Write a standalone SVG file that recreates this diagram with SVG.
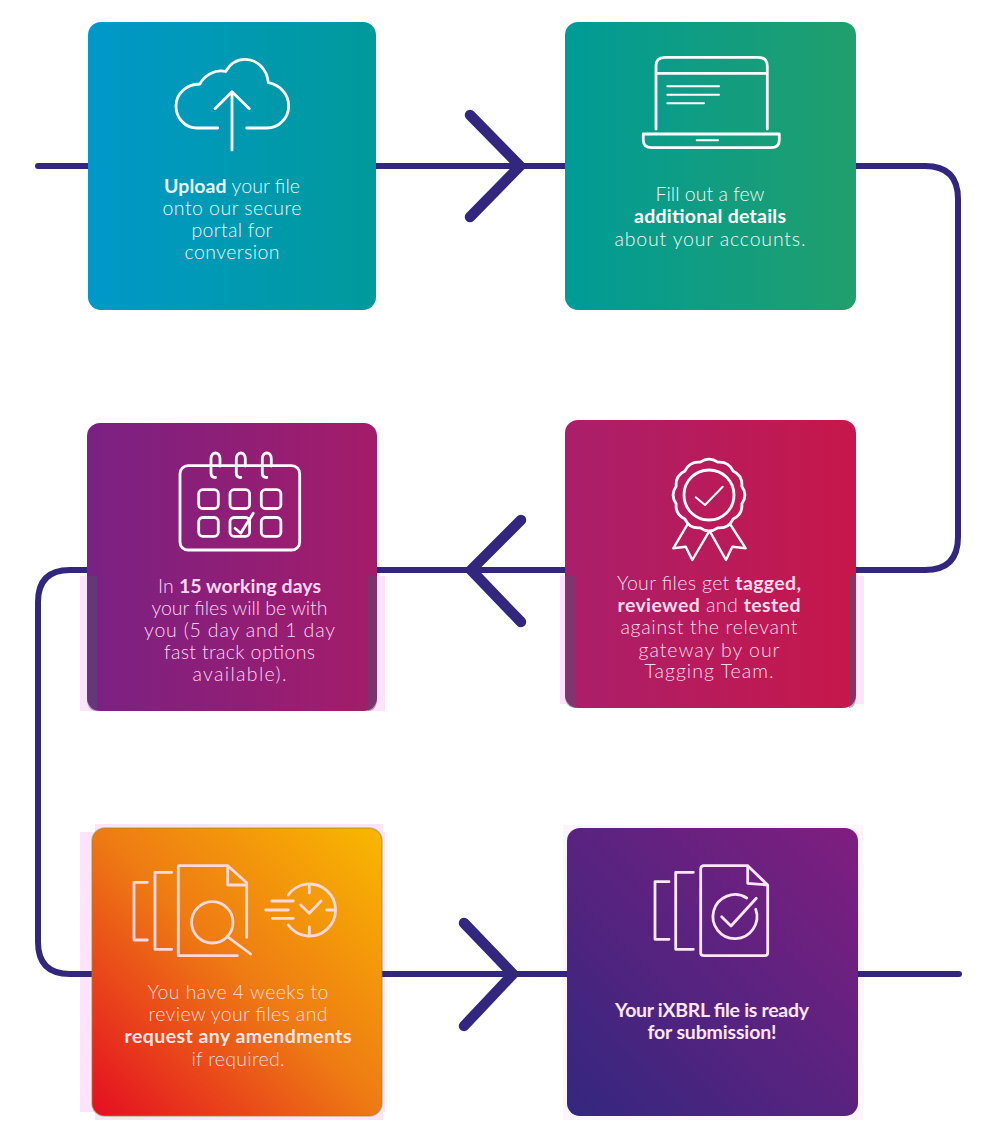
<svg xmlns="http://www.w3.org/2000/svg" width="1000" height="1146" viewBox="0 0 1000 1146">
<style>
.wire{fill:none;stroke:#33267f;stroke-width:6;stroke-linecap:round;stroke-linejoin:round}
.chev{fill:none;stroke:#33267f;stroke-width:10.5;stroke-linecap:round;stroke-linejoin:miter}
.ic{fill:none;stroke-width:2.8;stroke-linecap:round;stroke-linejoin:round}
.t{font-family:"Lato","Open Sans","Liberation Sans",sans-serif;font-size:19.5px;font-weight:300;text-anchor:middle}
.t tspan,.b{font-weight:700}
.halo{fill:#fde3fb}
.edge{fill:#4d5070;opacity:.45}
</style>
<defs>
<linearGradient id="g1" x1="0" x2="1" y1="0" y2="0"><stop offset="0" stop-color="#0098c9"/><stop offset="1" stop-color="#009a9b"/></linearGradient>
<linearGradient id="g2" x1="0" x2="1" y1="0" y2="0"><stop offset="0" stop-color="#009b97"/><stop offset="1" stop-color="#219f6c"/></linearGradient>
<linearGradient id="g3" x1="0" x2="1" y1="0" y2="0"><stop offset="0" stop-color="#7a2184"/><stop offset="1" stop-color="#a41c69"/></linearGradient>
<linearGradient id="g4" x1="0" x2="1" y1="0" y2="0"><stop offset="0" stop-color="#aa1f6b"/><stop offset="1" stop-color="#c7174a"/></linearGradient>
<linearGradient id="g5" x1="0" x2="1" y1="1" y2="0"><stop offset="0" stop-color="#e40d22"/><stop offset=".5" stop-color="#ee7a14"/><stop offset="1" stop-color="#f9b800"/></linearGradient>
<linearGradient id="g6" x1="0" x2="1" y1="1" y2="0"><stop offset="0" stop-color="#33277f"/><stop offset="1" stop-color="#801e80"/></linearGradient>
</defs>
<rect width="1000" height="1146" fill="#fff"/>
<rect class="halo" x="560" y="576" width="304" height="128"/>
<rect class="halo" x="80" y="576" width="305" height="135"/>
<rect class="halo" x="80" y="832" width="305" height="280"/>
<rect class="halo" x="95" y="824" width="288" height="296"/>
<rect x="563" y="825" width="300" height="295" fill="#fdf4fd"/>
<g id="connectors">
<path class="wire" d="M38 166H565"/>
<path class="wire" d="M856 166H925Q958 166 958 199V537Q958 570 925 570H377"/>
<path class="wire" d="M87 570H70Q38 570 38 602V942Q38 974 70 974H567"/>
<path class="wire" d="M858 974H959"/>
<path class="chev" d="M470 115L520 166L470 217"/>
<path class="chev" d="M521 520L471 570L521 622"/>
<path class="chev" d="M464 923L513 974L464 1026"/>
</g>
<g id="node-upload">
<rect x="88" y="22" width="288" height="288" rx="13" fill="url(#g1)"/>
<g class="ic" stroke="#fff">
<path d="M217.700 128H197C185 128 176 118 176 106C176 94 186 84 200 84C204 75 216 69 225.700 71.500C230 64 237 59.300 245 59.300C257 59.300 267 69 268.300 82.700C280 85 288.700 94 288.700 106C288.700 118 279 128 266.700 128H246.700"/>
<path d="M232 150V92M215 108.700L232 91.700L249.300 108.700"/>
</g>
<text class="t" fill="#e6f8fb" x="232" y="192.500" textLength="136"><tspan>Upload</tspan> your file</text>
<text class="t" fill="#e6f8fb" x="232" y="215" textLength="139">onto our secure</text>
<text class="t" fill="#e6f8fb" x="232" y="237" textLength="81">portal for</text>
<text class="t" fill="#e6f8fb" x="232" y="259" textLength="95">conversion</text>
</g>
<g id="node-details">
<rect x="565" y="22" width="291" height="288" rx="13" fill="url(#g2)"/>
<g class="ic" stroke="#fff">
<path d="M656 129V66Q656 57.300 665 57.300H758Q767.300 57.300 767.300 66V129M656 73.300H767.300"/>
<path d="M667.300 86.300H719M667.300 94.700H719M667.300 103.300H704M696.700 140.300H718" stroke-width="2"/>
<path d="M643.300 134H779.300V140Q779.300 147.700 771 147.700H652Q643.300 147.700 643.300 140Z"/>
</g>
<text class="t" fill="#eefaf5" x="710" y="201" textLength="109">Fill out a few</text>
<text class="t" fill="#fff" x="710" y="223" textLength="152"><tspan>additional details</tspan></text>
<text class="t" fill="#eefaf5" x="710" y="246" textLength="191">about your accounts.</text>
</g>
<g id="node-tagged">
<rect x="565" y="420" width="291" height="288" rx="13" fill="url(#g4)"/>
<path class="edge" d="M565 576H576V708Q565 708 565 695ZM849 576H856V695Q856 708 849 708Z"/>
<g class="ic" stroke="#fff">
<path transform="translate(709 495)" d="M32.840 8.800Q33.770 19.500 24.040 24.040Q19.500 33.770 8.800 32.840Q0 39 -8.800 32.840Q-19.500 33.770 -24.040 24.040Q-33.770 19.500 -32.840 8.800Q-39 0 -32.840 -8.800Q-33.770 -19.500 -24.040 -24.040Q-19.500 -33.770 -8.800 -32.840Q0 -39 8.800 -32.840Q19.500 -33.770 24.040 -24.040Q33.770 -19.500 32.840 -8.800Q39 0 32.840 8.800Z"/>
<circle cx="709" cy="495" r="25"/>
<path d="M695.700 497.300L705 505L722.700 486.700" stroke-width="2"/>
<path d="M687.700 524L673.300 548.300L685.700 546.700L692.300 560L709 531.700M730 524L745.700 548.300L732.300 546.700L726 560L710 531.700" stroke-width="2.400"/>
</g>
<text class="t" fill="#fdd9ec" x="709" y="590" textLength="184">Your files get <tspan>tagged,</tspan></text>
<text class="t" fill="#fdd9ec" x="709" y="612" textLength="183"><tspan>reviewed</tspan> and <tspan>tested</tspan></text>
<text class="t" fill="#fdd9ec" x="709" y="634" textLength="177">against the relevant</text>
<text class="t" fill="#fdd9ec" x="709" y="657" textLength="141">gateway by our</text>
<text class="t" fill="#fdd9ec" x="709" y="678" textLength="129">Tagging Team.</text>
</g>
<g id="node-days">
<rect x="87" y="423" width="290" height="288" rx="13" fill="url(#g3)"/>
<path class="edge" d="M87 576H97V711Q87 711 87 698ZM368 576H377V698Q377 711 368 711Z"/>
<g class="ic" stroke="#fff">
<rect x="180" y="465.700" width="119.700" height="84.300" rx="8"/>
<path d="M215.500 477.500C212 477.500 211 475.500 211 473V459C211 451 220 451 220 459V466M240.800 477.500C237.300 477.500 236.300 475.500 236.300 473V459C236.300 451 245.300 451 245.300 459V466M266.800 477.500C263.300 477.500 262.300 475.500 262.300 473V459C262.300 451 271.300 451 271.300 459V466"/>
<rect x="198.700" y="489.700" width="19.600" height="18.800" rx="4"/>
<rect x="230" y="489.700" width="19.600" height="18.800" rx="4"/>
<rect x="261.300" y="489.700" width="19.600" height="18.800" rx="4"/>
<rect x="198.700" y="517.500" width="19.600" height="18.800" rx="4"/>
<rect x="230" y="517.500" width="19.600" height="18.800" rx="4"/>
<rect x="261.300" y="517.500" width="19.600" height="18.800" rx="4"/>
<path d="M235 528.300L240.700 533.300L253.300 513.300"/>
</g>
<text class="t" fill="#fbd6f3" x="239.500" y="593" textLength="163">In <tspan>15 working days</tspan></text>
<text class="t" fill="#fbd6f3" x="239.500" y="615" textLength="176">your files will be with</text>
<text class="t" fill="#fbd6f3" x="239.500" y="637" textLength="191">you (5 day and 1 day</text>
<text class="t" fill="#fbd6f3" x="239.500" y="659" textLength="151">fast track options</text>
<text class="t" fill="#fbd6f3" x="239.500" y="681" textLength="94">available).</text>
</g>
<g id="node-review">
<rect x="92" y="828" width="290" height="288" rx="13" fill="url(#g5)" stroke="#8f8a2a" stroke-opacity=".5" stroke-width="1.500"/>
<g class="ic" stroke="#fdd8dc">
<path d="M147.300 882.300H134V940H147.300M171.700 872.300H155V949.300H171.700"/>
<path d="M237.300 955.700H178.300V865.700H227.700L246.700 882.700V937.300M227.700 865.700V885H246.700"/>
<circle cx="212.300" cy="922.300" r="20.700"/>
<path d="M228.300 937.300L250.700 954"/>
<path d="M288.300 895A26 26 0 1 1 288.300 925"/>
<path d="M309.300 885.700V893M326.700 910H335M309.300 927V935M300.700 905L309.300 913.300L321 901M271.700 901H293.300M265.700 910H288.300M272.300 918.300H293.300"/>
</g>
<text class="t" fill="#fdd8dc" x="238" y="999" textLength="181">You have 4 weeks to</text>
<text class="t" fill="#fdd8dc" x="238" y="1021" textLength="179">review your files and</text>
<text class="t" fill="#fde6ea" x="238" y="1043" textLength="227"><tspan>request any amendments</tspan></text>
<text class="t" fill="#fdd8dc" x="238" y="1066" textLength="93">if required.</text>
</g>
<g id="node-ready">
<rect x="567" y="828" width="291" height="288" rx="13" fill="url(#g6)"/>
<g class="ic" stroke="#fbe6fb">
<path d="M669 881.700H655V939.300H669M693.300 872.300H675.700V949.300H693.300"/>
<path d="M747.700 865.700H704Q700.700 865.700 700.700 869V952.700Q700.700 955.700 704 955.700H764.700Q767.700 955.700 767.700 952.700V885L747.700 865.700V883.300L767.700 885"/>
<path d="M746.700 898A22 22 0 1 0 755.700 909.300"/>
<path d="M721.700 916.700L731 926L756.300 898.300"/>
</g>
<text class="t b" fill="#fbe6fb" x="712" y="1017" textLength="194">Your iXBRL file is ready</text>
<text class="t b" fill="#fbe6fb" x="712" y="1039" textLength="129">for submission!</text>
</g>
</svg>
